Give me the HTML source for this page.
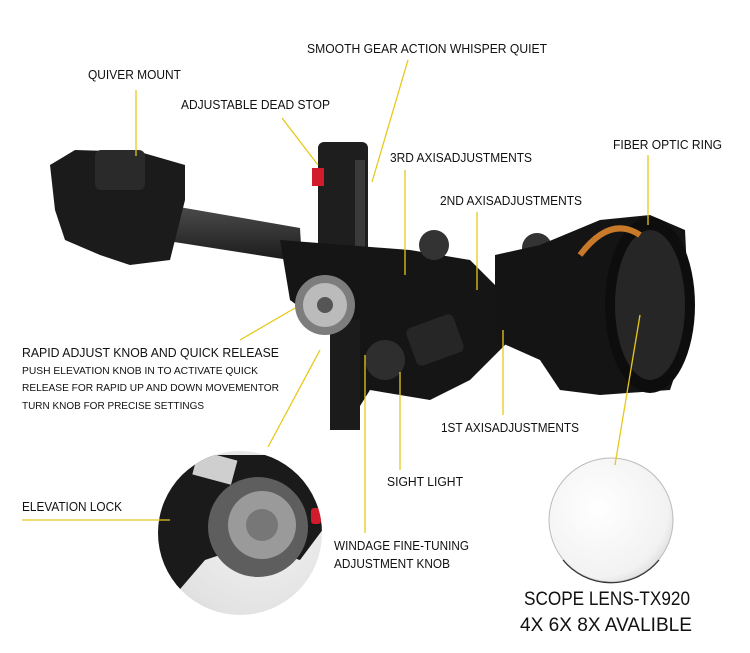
<!DOCTYPE html>
<html><head><meta charset="utf-8"><style>
html,body{margin:0;padding:0;background:#fff;}
svg{display:block}
text{font-family:"Liberation Sans Narrow","Liberation Sans",sans-serif;fill:#111;}
</style></head><body>
<svg width="750" height="653" viewBox="0 0 750 653" xmlns="http://www.w3.org/2000/svg">
<defs>
<radialGradient id="mag" cx="0.55" cy="0.4" r="0.7">
<stop offset="0" stop-color="#f4f4f4"/><stop offset="0.7" stop-color="#e2e2e2"/><stop offset="1" stop-color="#cfcfcf"/></radialGradient>
<radialGradient id="lens" cx="0.4" cy="0.4" r="0.7">
<stop offset="0" stop-color="#ffffff"/><stop offset="0.8" stop-color="#f2f2f2"/><stop offset="1" stop-color="#d5d5d5"/></radialGradient>
<linearGradient id="bar" x1="0" y1="0" x2="0" y2="1"><stop offset="0" stop-color="#555"/><stop offset="1" stop-color="#1a1a1a"/></linearGradient>
<clipPath id="mc"><circle cx="240" cy="533" r="82"/></clipPath>
</defs>

<polygon points="110,195 300,228 302,262 110,232" fill="url(#bar)"/>
<polygon points="50,165 75,150 140,152 185,165 185,200 170,260 130,265 100,255 65,240 55,210" fill="#1b1b1b"/>
<rect x="95" y="150" width="50" height="40" rx="6" fill="#2a2a2a"/>
<rect x="318" y="142" width="50" height="130" rx="6" fill="#1e1e1e"/>
<rect x="355" y="160" width="10" height="100" fill="#3a3a3a"/>
<rect x="312" y="168" width="12" height="18" fill="#d21c2c"/>
<polygon points="280,240 410,250 470,260 500,290 510,340 470,380 430,400 370,390 345,430 330,420 330,330 290,300" fill="#151515"/>
<rect x="330" y="320" width="30" height="110" fill="#1b1b1b"/>
<circle cx="325" cy="305" r="30" fill="#7d7d7d"/>
<circle cx="325" cy="305" r="22" fill="#bbb"/>
<circle cx="325" cy="305" r="8" fill="#555"/>
<circle cx="385" cy="360" r="20" fill="#2e2e2e"/>
<rect x="410" y="320" width="50" height="40" rx="6" fill="#262626" transform="rotate(-20 435 340)"/>
<circle cx="434" cy="245" r="15" fill="#333"/>
<circle cx="537" cy="248" r="15" fill="#333"/>
<polygon points="495,255 540,245 600,220 650,215 685,230 690,330 670,390 600,395 560,390 540,360 495,340" fill="#141414"/>
<ellipse cx="650" cy="305" rx="45" ry="88" fill="#0d0d0d"/>
<ellipse cx="650" cy="305" rx="35" ry="75" fill="#262626"/>
<path d="M580,255 q30,-40 60,-20" stroke="#c87a2a" stroke-width="6" fill="none"/>

<g clip-path="url(#mc)">
<rect x="150" y="440" width="200" height="200" fill="url(#mag)"/>
<polygon points="150,455 320,455 330,520 300,560 250,545 205,560 175,595 150,595" fill="#1a1a1a"/>
<rect x="195" y="455" width="40" height="25" fill="#cfcfcf" transform="rotate(15 215 467)"/>
<circle cx="258" cy="527" r="50" fill="#5e5e5e"/>
<circle cx="262" cy="525" r="34" fill="#9a9a9a"/>
<circle cx="262" cy="525" r="16" fill="#777"/>
<rect x="311" y="508" width="10" height="16" rx="3" fill="#d21c2c"/>
</g>
<circle cx="611" cy="520" r="62" fill="url(#lens)" stroke="#bbb" stroke-width="1"/>
<path d="M563,560 A62,62 0 0 0 659,560" stroke="#333" stroke-width="1.2" fill="none"/>

<g stroke="#e8c81a" stroke-width="1.3" fill="none">
<line x1="136" y1="90" x2="136" y2="156"/>
<line x1="408" y1="60" x2="372" y2="182"/>
<line x1="282" y1="118" x2="318" y2="165"/>
<line x1="405" y1="170" x2="405" y2="275"/>
<line x1="477" y1="212" x2="477" y2="290"/>
<line x1="648" y1="155" x2="648" y2="225"/>
<line x1="240" y1="340" x2="295" y2="308"/>
<line x1="503" y1="330" x2="503" y2="415"/>
<line x1="400" y1="372" x2="400" y2="470"/>
<line x1="365" y1="355" x2="365" y2="533"/>
<line x1="22" y1="520" x2="170" y2="520"/>
<line x1="268" y1="447" x2="320" y2="350"/>
<line x1="615" y1="465" x2="640" y2="315"/>
</g>

<g font-size="12.5">
<text x="88" y="79" textLength="93" lengthAdjust="spacingAndGlyphs">QUIVER MOUNT</text>
<text x="307" y="53" textLength="240" lengthAdjust="spacingAndGlyphs">SMOOTH GEAR ACTION WHISPER QUIET</text>
<text x="181" y="109" textLength="149" lengthAdjust="spacingAndGlyphs">ADJUSTABLE DEAD STOP</text>
<text x="390" y="162" textLength="142" lengthAdjust="spacingAndGlyphs">3RD AXISADJUSTMENTS</text>
<text x="613" y="149" textLength="109" lengthAdjust="spacingAndGlyphs">FIBER OPTIC RING</text>
<text x="440" y="205" textLength="142" lengthAdjust="spacingAndGlyphs">2ND AXISADJUSTMENTS</text>
<text x="22" y="357" textLength="257" lengthAdjust="spacingAndGlyphs">RAPID ADJUST KNOB AND QUICK RELEASE</text>
<text x="441" y="432" textLength="138" lengthAdjust="spacingAndGlyphs">1ST AXISADJUSTMENTS</text>
<text x="387" y="486" textLength="76" lengthAdjust="spacingAndGlyphs">SIGHT LIGHT</text>
<text x="22" y="511" textLength="100" lengthAdjust="spacingAndGlyphs">ELEVATION LOCK</text>
<text x="334" y="550" textLength="135" lengthAdjust="spacingAndGlyphs">WINDAGE FINE-TUNING</text>
<text x="334" y="568" textLength="116" lengthAdjust="spacingAndGlyphs">ADJUSTMENT KNOB</text>
</g>
<g font-size="10">
<text x="22" y="374" textLength="236" lengthAdjust="spacingAndGlyphs">PUSH ELEVATION KNOB IN TO ACTIVATE QUICK</text>
<text x="22" y="391" textLength="257" lengthAdjust="spacingAndGlyphs">RELEASE FOR RAPID UP AND DOWN MOVEMENTOR</text>
<text x="22" y="409" textLength="182" lengthAdjust="spacingAndGlyphs">TURN KNOB FOR PRECISE SETTINGS</text>
</g>
<g font-size="19">
<text x="524" y="605" textLength="166" lengthAdjust="spacingAndGlyphs">SCOPE LENS-TX920</text>
<text x="520" y="631" textLength="172" lengthAdjust="spacingAndGlyphs">4X 6X 8X AVALIBLE</text>
</g>
</svg>
</body></html>
